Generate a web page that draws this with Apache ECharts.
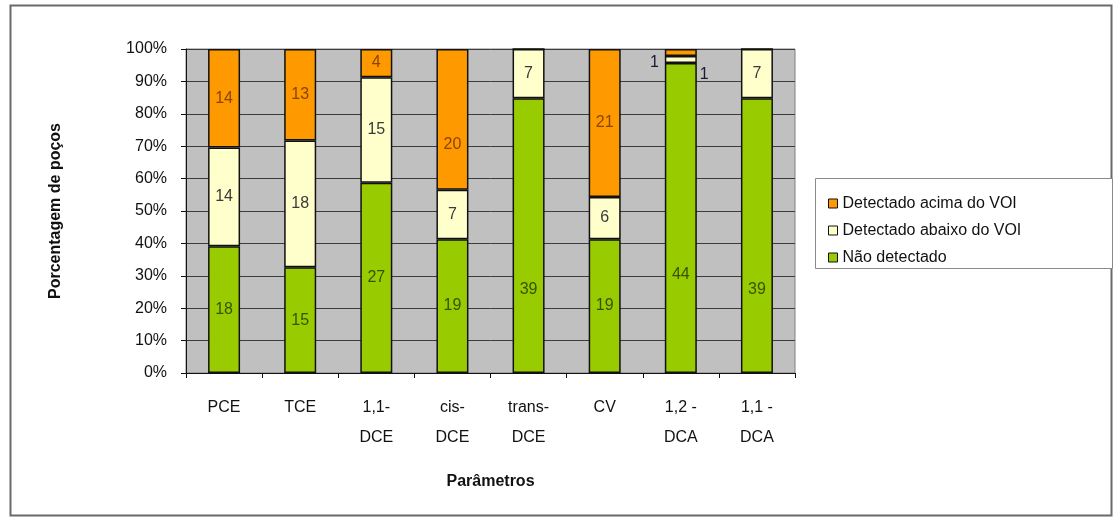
<!DOCTYPE html>
<html>
<head>
<meta charset="utf-8">
<script src="https://cdn.jsdelivr.net/npm/echarts@6/dist/echarts.min.js"></script>
<style>
  html, body { margin: 0; padding: 0; background: #ffffff; }
  #chart { width: 1117px; height: 522px; }
</style>
</head>
<body>
<div id="chart"></div>
<script>
// Parameters analysed (x-axis categories)
const categories = ['PCE', 'TCE', '1,1-\nDCE', 'cis-\nDCE', 'trans-\nDCE', 'CV', '1,2 -\nDCA', '1,1 -\nDCA'];

// Number of wells in each class, per parameter
const naoDetectado = [18, 15, 27, 19, 39, 19, 44, 39];
const abaixoVOI    = [14, 18, 15, 7, 7, 6, 1, 7];
const acimaVOI     = [14, 13, 4, 20, 0, 21, 1, 0];

// Series names (legend)
const seriesNames = ['Detectado acima do VOI', 'Detectado abaixo do VOI', 'Não detectado'];

// Percentage axis ticks
const yMin = 0, yMax = 100, yStep = 10;

const FONT = '"Liberation Sans", Arial, sans-serif';
const FS = 16;

const totals = categories.map((_, i) => naoDetectado[i] + abaixoVOI[i] + acimaVOI[i]);

// Some count labels sit lower than the middle of their segment (pixel shifts)
const greenLabelShift = { 4: 54, 6: 57, 7: 54 };
const orangeLabelShift = { 3: 25 };

// Convert counts into shares of each column; the label keeps the count
function toShares(counts, smallLabel, shifts) {
  return counts.map((c, i) => {
    const item = { value: c / totals[i] * 100, count: c };
    if (c > 0 && item.value < 5 && smallLabel) item.label = smallLabel;
    else if (shifts && shifts[i]) item.label = { offset: [0, shifts[i]] };
    return item;
  });
}

const labelBase = (color) => ({
  show: true,
  position: 'inside',
  fontFamily: FONT,
  fontSize: FS,
  color: color,
  formatter: p => (p.data.count > 0 ? String(p.data.count) : '')
});

const barStyle = (fill) => ({ color: fill, borderColor: '#111', borderWidth: 1.5 });

const chart = echarts.init(document.getElementById('chart'));

chart.setOption({
  animation: false,
  backgroundColor: '#ffffff',
  textStyle: { fontFamily: FONT },
  graphic: [
    // outer frame of the chart area
    { type: 'rect', shape: { x: 10.5, y: 5.5, width: 1101, height: 510 },
      style: { fill: 'none', stroke: '#6a6a6a', lineWidth: 2 }, z: -1 },
    // legend frame
    { type: 'rect', shape: { x: 815.5, y: 178.5, width: 297, height: 90 },
      style: { fill: '#ffffff', stroke: '#8a8a8a', lineWidth: 1 }, z: 0 }
  ],
  grid: {
    left: 186, right: 322, top: 49, bottom: 149,
    show: true, backgroundColor: '#C0C0C0', borderColor: '#808080', borderWidth: 1,
    containLabel: false, outerBoundsMode: 'none'
  },
  legend: {
    orient: 'vertical',
    left: 823, top: 190,
    data: seriesNames,
    icon: 'rect',
    itemWidth: 9, itemHeight: 9, itemGap: 10,
    itemStyle: { borderColor: '#111', borderWidth: 1 },
    textStyle: { fontFamily: FONT, fontSize: FS, color: '#111', lineHeight: 17 },
    selectedMode: false,
    z: 5
  },
  xAxis: {
    type: 'category',
    data: categories,
    name: 'Parâmetros',
    nameLocation: 'middle',
    nameGap: 101,
    nameTextStyle: { fontFamily: FONT, fontSize: FS, fontWeight: 'bold', color: '#111' },
    axisLine: { show: true, lineStyle: { color: '#111', width: 1 } },
    axisTick: { show: true, alignWithLabel: false, length: 5, lineStyle: { color: '#111' } },
    axisLabel: { interval: 0, margin: 20, fontFamily: FONT, fontSize: FS, lineHeight: 30, color: '#111' },
    splitLine: { show: false }
  },
  yAxis: {
    type: 'value',
    min: yMin, max: yMax, interval: yStep,
    name: 'Porcentagem de poços',
    nameLocation: 'middle',
    nameGap: 122,
    nameRotate: 90,
    nameTextStyle: { fontFamily: FONT, fontSize: FS, fontWeight: 'bold', color: '#111' },
    axisLine: { show: true, lineStyle: { color: '#111', width: 1 } },
    axisTick: { show: true, length: 5, lineStyle: { color: '#111' } },
    axisLabel: { margin: 19, fontFamily: FONT, fontSize: FS, color: '#111', formatter: '{value}%' },
    splitLine: { show: true, lineStyle: { color: '#3c3c3c', width: 1 } }
  },
  series: [
    {
      name: seriesNames[2], type: 'bar', stack: 'total', barWidth: 32,
      itemStyle: barStyle('#99CC00'),
      label: labelBase('#3a5200'),
      data: toShares(naoDetectado, null, greenLabelShift)
    },
    {
      name: seriesNames[1], type: 'bar', stack: 'total', barWidth: 32,
      itemStyle: barStyle('#FFFFCC'),
      label: labelBase('#3a3a3a'),
      data: toShares(abaixoVOI, { position: 'right', distance: 3, offset: [0, 15], color: '#1a1a30' })
    },
    {
      name: seriesNames[0], type: 'bar', stack: 'total', barWidth: 32,
      itemStyle: barStyle('#FF9900'),
      label: labelBase('#8a4500'),
      data: toShares(acimaVOI, { position: 'left', distance: 6, offset: [0, 10], color: '#1a1a30' }, orangeLabelShift)
    }
  ]
});
</script>
</body>
</html>
